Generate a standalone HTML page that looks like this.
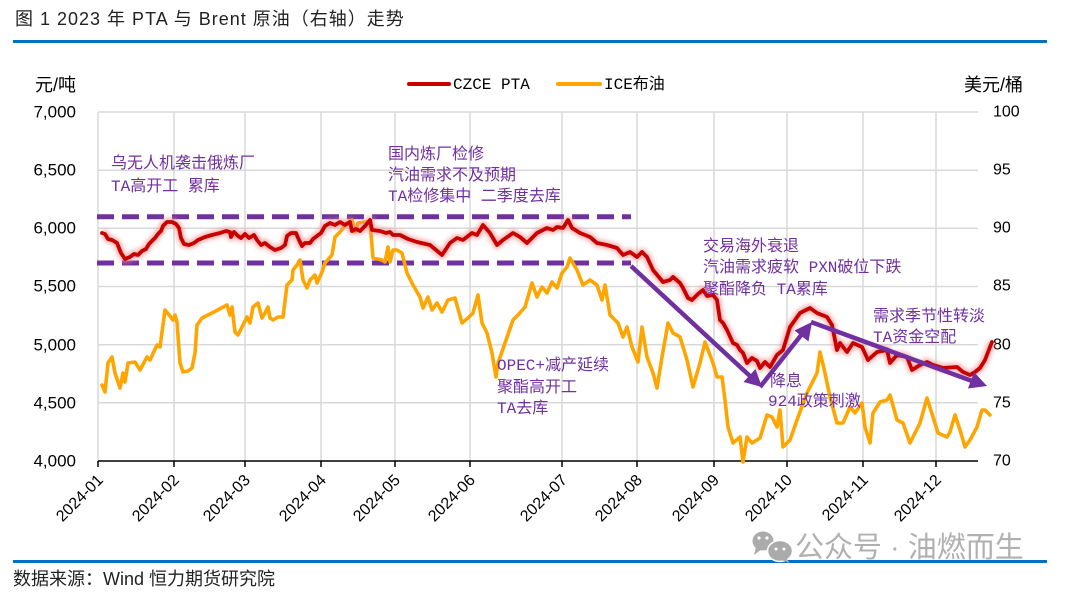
<!DOCTYPE html>
<html><head><meta charset="utf-8"><style>
html,body{margin:0;padding:0;background:#fff;}
svg{display:block;}
.cjk{font-family:"Liberation Sans","Noto Sans CJK SC",sans-serif;}
.ann{font-family:"Liberation Mono","Noto Sans CJK SC",monospace;font-size:16px;fill:#7030a0;}
.tk{font-family:"Liberation Sans",sans-serif;font-size:16px;fill:#000;}
</style></head><body>
<svg width="1080" height="592" viewBox="0 0 1080 592" xmlns="http://www.w3.org/2000/svg">
<defs>
<filter id="glow" x="-5%" y="-30%" width="110%" height="160%"><feGaussianBlur stdDeviation="2.2"/></filter>
</defs>
<text x="15" y="25" class="cjk" font-size="18" fill="#222" letter-spacing="1">图 1 2023 年 PTA 与 Brent 原油（右轴）走势</text>
<rect x="13" y="40" width="1034" height="3" fill="#0070c0"/>

<!-- gridlines -->
<g stroke="#d9d9d9" stroke-width="1.5">
<line x1="98" y1="112" x2="978" y2="112"/>
<line x1="98" y1="170.2" x2="978" y2="170.2"/>
<line x1="98" y1="228.3" x2="978" y2="228.3"/>
<line x1="98" y1="286.5" x2="978" y2="286.5"/>
<line x1="98" y1="344.7" x2="978" y2="344.7"/>
<line x1="98" y1="402.8" x2="978" y2="402.8"/>
<line x1="98" y1="112" x2="98" y2="461"/>
<line x1="174" y1="112" x2="174" y2="461"/>
<line x1="245" y1="112" x2="245" y2="461"/>
<line x1="321" y1="112" x2="321" y2="461"/>
<line x1="395" y1="112" x2="395" y2="461"/>
<line x1="470" y1="112" x2="470" y2="461"/>
<line x1="562" y1="112" x2="562" y2="461"/>
<line x1="637" y1="112" x2="637" y2="461"/>
<line x1="714" y1="112" x2="714" y2="461"/>
<line x1="787" y1="112" x2="787" y2="461"/>
<line x1="863" y1="112" x2="863" y2="461"/>
<line x1="936" y1="112" x2="936" y2="461"/>
</g>
<!-- axis -->
<line x1="98" y1="461" x2="978" y2="461" stroke="#000" stroke-width="1.5"/>
<g stroke="#000" stroke-width="1.5">
<line x1="98" y1="461" x2="98" y2="467"/><line x1="174" y1="461" x2="174" y2="467"/><line x1="245" y1="461" x2="245" y2="467"/><line x1="321" y1="461" x2="321" y2="467"/><line x1="395" y1="461" x2="395" y2="467"/><line x1="470" y1="461" x2="470" y2="467"/><line x1="562" y1="461" x2="562" y2="467"/><line x1="637" y1="461" x2="637" y2="467"/><line x1="714" y1="461" x2="714" y2="467"/><line x1="787" y1="461" x2="787" y2="467"/><line x1="863" y1="461" x2="863" y2="467"/><line x1="936" y1="461" x2="936" y2="467"/>
</g>

<!-- y labels -->
<g class="tk" text-anchor="end" dominant-baseline="central" style="font-size:17px">
<text x="76" y="112">7,000</text><text x="76" y="170">6,500</text><text x="76" y="228">6,000</text><text x="76" y="286">5,500</text><text x="76" y="345">5,000</text><text x="76" y="403">4,500</text><text x="76" y="461">4,000</text>
</g>
<g class="tk" dominant-baseline="central">
<text x="993" y="112">100</text><text x="993" y="170">95</text><text x="993" y="228">90</text><text x="993" y="286">85</text><text x="993" y="345">80</text><text x="993" y="403">75</text><text x="993" y="461">70</text>
</g>
<text x="35" y="85" class="cjk" font-size="18" dominant-baseline="central">元/吨</text>
<text x="964" y="85" class="cjk" font-size="18" dominant-baseline="central">美元/桶</text>

<!-- x labels -->
<g class="tk" text-anchor="end">
<text x="104" y="481" transform="rotate(-45 104 481)">2024-01</text>
<text x="180" y="481" transform="rotate(-45 180 481)">2024-02</text>
<text x="251" y="481" transform="rotate(-45 251 481)">2024-03</text>
<text x="327" y="481" transform="rotate(-45 327 481)">2024-04</text>
<text x="401" y="481" transform="rotate(-45 401 481)">2024-05</text>
<text x="476" y="481" transform="rotate(-45 476 481)">2024-06</text>
<text x="568" y="481" transform="rotate(-45 568 481)">2024-07</text>
<text x="643" y="481" transform="rotate(-45 643 481)">2024-08</text>
<text x="720" y="481" transform="rotate(-45 720 481)">2024-09</text>
<text x="793" y="481" transform="rotate(-45 793 481)">2024-10</text>
<text x="869" y="481" transform="rotate(-45 869 481)">2024-11</text>
<text x="942" y="481" transform="rotate(-45 942 481)">2024-12</text>
</g>

<!-- legend -->
<line x1="409" y1="84" x2="449" y2="84" stroke="#c80000" stroke-width="4" stroke-linecap="round"/>
<text x="453" y="85" class="ann" style="fill:#000" dominant-baseline="central">CZCE PTA</text>
<line x1="558" y1="84" x2="600" y2="84" stroke="#ffa500" stroke-width="4" stroke-linecap="round"/>
<text x="604" y="85" class="ann" style="fill:#000" dominant-baseline="central">ICE布油</text>

<!-- dashed lines -->
<g stroke="#7030a0" stroke-width="5" stroke-dasharray="17 8">
<line x1="97" y1="216.7" x2="631" y2="216.7"/>
<line x1="97" y1="263" x2="631" y2="263"/>
</g>

<!-- orange -->
<polyline fill="none" stroke="#ffa500" stroke-width="3.6" stroke-linejoin="round" stroke-linecap="round" points="102,385 105,392 108,363 112,357 115,373 120,388 123,373 125,382 128,363 135,362 140,370 147,357 150,360 157,345 160,347 165,310 170,316 173,320 175,315 177,322 180,363 183,372 188,371 192,368 195,353 197,325 202,318 212,313 227,305 230,315 232,307 235,332 238,335 242,327 247,317 250,323 253,307 258,303 262,318 265,313 268,307 270,318 273,320 278,317 283,317 287,285 292,280 293,270 297,265 300,260 303,280 307,288 310,280 315,275 317,283 322,272 325,263 332,255 335,237 340,232 347,223 352,220 355,232 358,223 365,222 370,222 373,258 382,260 385,262 388,247 390,262 393,250 397,250 402,253 407,273 413,285 420,297 423,308 428,297 432,310 437,303 442,312 448,300 455,298 462,323 468,318 473,313 478,295 482,323 487,333 492,353 496,377 498,363 505,343 513,320 518,315 525,307 532,283 537,297 542,287 547,293 552,282 557,288 562,273 567,267 570,258 577,270 583,285 590,280 597,285 602,300 605,285 610,315 618,323 623,337 627,327 632,347 638,362 642,327 647,357 653,373 657,388 662,357 668,323 673,333 680,337 687,360 693,387 700,363 705,342 713,363 717,377 722,377 725,400 728,427 733,443 740,437 743,462 747,437 752,443 760,438 767,415 772,417 777,427 780,410 783,447 790,440 797,420 807,393 817,373 820,352 825,373 830,397 837,423 843,423 850,407 855,413 862,403 865,427 870,443 873,413 880,402 887,400 890,395 897,420 903,423 910,443 913,437 920,423 927,398 933,417 938,433 947,437 950,432 955,415 960,430 965,447 970,440 977,427 982,410 985,410 990,415"/>

<!-- red glow + red -->
<polyline fill="none" stroke="#f09090" stroke-opacity="0.7" stroke-width="8" stroke-linejoin="round" filter="url(#glow)" points="102,233 105,234 108,239 112,240 117,243 121,253 125,259 130,257 134,254 138,255 142,251 146,249 149,244 152,241 155,238 158,234 161,231 163,226 167,222 172,222 176,224 179,228 181,238 184,244 189,245 194,243 198,240 205,237 212,235 220,233 226,231 230,232 231,237 234,232 238,236 241,238 245,234 249,238 254,235 257,240 261,245 265,243 270,247 275,250 281,248 285,245 287,236 291,233 296,233 299,240 302,246 305,243 310,243 313,239 317,236 321,233 325,226 330,223 335,225 340,222 345,225 350,222 352,231 356,229 360,231 365,226 370,220 372,230 380,231 386,233 390,232 393,235 400,235 408,239 417,242 430,245 442,255 450,243 457,238 463,240 472,233 477,235 483,225 490,233 497,245 503,240 513,233 520,237 527,243 537,233 547,228 553,230 557,227 563,228 568,220 572,228 580,233 590,237 597,243 607,245 617,248 623,255 630,252 637,257 642,252 647,257 653,270 663,282 670,280 673,277 680,283 683,288 688,298 692,300 698,294 703,290 707,296 713,295 717,300 720,320 723,323 727,330 733,343 737,345 740,350 743,353 747,363 752,358 757,361 760,368 765,362 770,367 777,355 783,350 790,327 800,313 810,308 817,313 827,317 832,325 837,350 840,343 847,352 853,343 862,347 868,360 877,352 887,350 890,363 897,355 907,357 912,370 920,365 927,362 933,365 943,368 957,367 963,372 970,375 975,372 980,368 985,360 990,347 992,342"/>
<polyline fill="none" stroke="#c80000" stroke-width="3.8" stroke-linejoin="round" stroke-linecap="round" points="102,233 105,234 108,239 112,240 117,243 121,253 125,259 130,257 134,254 138,255 142,251 146,249 149,244 152,241 155,238 158,234 161,231 163,226 167,222 172,222 176,224 179,228 181,238 184,244 189,245 194,243 198,240 205,237 212,235 220,233 226,231 230,232 231,237 234,232 238,236 241,238 245,234 249,238 254,235 257,240 261,245 265,243 270,247 275,250 281,248 285,245 287,236 291,233 296,233 299,240 302,246 305,243 310,243 313,239 317,236 321,233 325,226 330,223 335,225 340,222 345,225 350,222 352,231 356,229 360,231 365,226 370,220 372,230 380,231 386,233 390,232 393,235 400,235 408,239 417,242 430,245 442,255 450,243 457,238 463,240 472,233 477,235 483,225 490,233 497,245 503,240 513,233 520,237 527,243 537,233 547,228 553,230 557,227 563,228 568,220 572,228 580,233 590,237 597,243 607,245 617,248 623,255 630,252 637,257 642,252 647,257 653,270 663,282 670,280 673,277 680,283 683,288 688,298 692,300 698,294 703,290 707,296 713,295 717,300 720,320 723,323 727,330 733,343 737,345 740,350 743,353 747,363 752,358 757,361 760,368 765,362 770,367 777,355 783,350 790,327 800,313 810,308 817,313 827,317 832,325 837,350 840,343 847,352 853,343 862,347 868,360 877,352 887,350 890,363 897,355 907,357 912,370 920,365 927,362 933,365 943,368 957,367 963,372 970,375 975,372 980,368 985,360 990,347 992,342"/>

<!-- arrows -->
<g stroke="#7030a0" stroke-width="4.5" fill="none" stroke-linecap="butt">
<line x1="631" y1="266" x2="751" y2="377"/>
<line x1="760" y1="387" x2="802" y2="334"/>
<line x1="811" y1="322" x2="972" y2="381"/>
</g>
<g fill="#7030a0">
<polygon points="762,387 743.5,382 755.5,369"/>
<polygon points="812,322 808.5,341.5 794.5,330.5"/>
<polygon points="987,386 968,388.5 974,372"/>
</g>

<!-- annotations -->
<g class="ann" dominant-baseline="central">
<text x="111" y="164">乌无人机袭击俄炼厂</text>
<text x="111" y="187">TA高开工 累库</text>
<text x="388" y="155">国内炼厂检修</text>
<text x="388" y="176">汽油需求不及预期</text>
<text x="388" y="197">TA检修集中 二季度去库</text>
<text x="703" y="247">交易海外衰退</text>
<text x="703" y="268">汽油需求疲软 PXN破位下跌</text>
<text x="703" y="290">聚酯降负 TA累库</text>
<text x="873" y="317">需求季节性转淡</text>
<text x="873" y="338">TA资金空配</text>
<text x="770" y="382">降息</text>
<text x="768" y="402">924政策刺激</text>
<text x="497" y="366">OPEC+减产延续</text>
<text x="497" y="388">聚酯高开工</text>
<text x="497" y="409">TA去库</text>
</g>

<!-- bottom -->
<rect x="13" y="560" width="1034" height="3" fill="#0070c0"/>
<g fill="#ababab">
<ellipse cx="763" cy="541" rx="10.5" ry="9.5"/>
<polygon points="756,547 754,555 762,549"/>
<ellipse cx="780" cy="551" rx="12.5" ry="10.5" stroke="#fff" stroke-width="1.5"/>
<polygon points="786,558 790,563 781,560"/>
</g>
<g fill="#fff"><circle cx="759" cy="538" r="1.6"/><circle cx="767" cy="538" r="1.6"/><circle cx="776" cy="549" r="1.5"/><circle cx="784" cy="549" r="1.5"/></g>
<text x="795" y="548" class="cjk" font-size="29" fill="#b0b0b0" dominant-baseline="central">公众号 · 油燃而生</text>
<text x="13" y="585" class="cjk" font-size="18" fill="#222">数据来源：Wind 恒力期货研究院</text>
</svg>
</body></html>
